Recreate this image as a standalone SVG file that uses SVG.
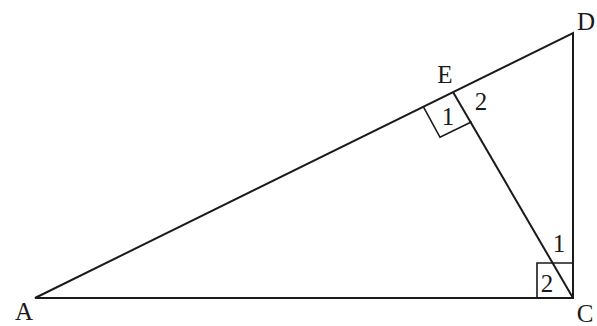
<svg xmlns="http://www.w3.org/2000/svg" width="597" height="326" viewBox="0 0 597 326">
<style>
.ln{stroke:#1a1a1a;stroke-width:2;fill:none;stroke-linejoin:miter}
.mk{stroke:#1a1a1a;stroke-width:1.6;fill:none}
.lb{font-family:"Liberation Serif","Times New Roman",serif;font-size:25px;fill:#1a1a1a;text-anchor:middle}
</style>
<rect width="597" height="326" fill="#fff"/>
<g id="connectors">
<polygon class="ln" points="35,298 573,298 573,33"/>
<line class="ln" x1="453" y1="92" x2="573" y2="298"/>
</g>
<g id="marks">
<polyline class="mk" points="423.3,106.7 440,137.3 471.7,121.7"/>
<polyline class="mk" points="537,298 537,263 573,263"/>
</g>
<g id="A"><text class="lb" x="24" y="320">A</text></g>
<g id="C"><text class="lb" x="585" y="322">C</text></g>
<g id="D"><text class="lb" x="586" y="30">D</text></g>
<g id="E"><text class="lb" x="445" y="83">E</text></g>
<g id="angles">
<text class="lb" x="448" y="125">1</text>
<text class="lb" x="481" y="110">2</text>
<text class="lb" x="559" y="252">1</text>
<text class="lb" x="547" y="292">2</text>
</g>
</svg>
